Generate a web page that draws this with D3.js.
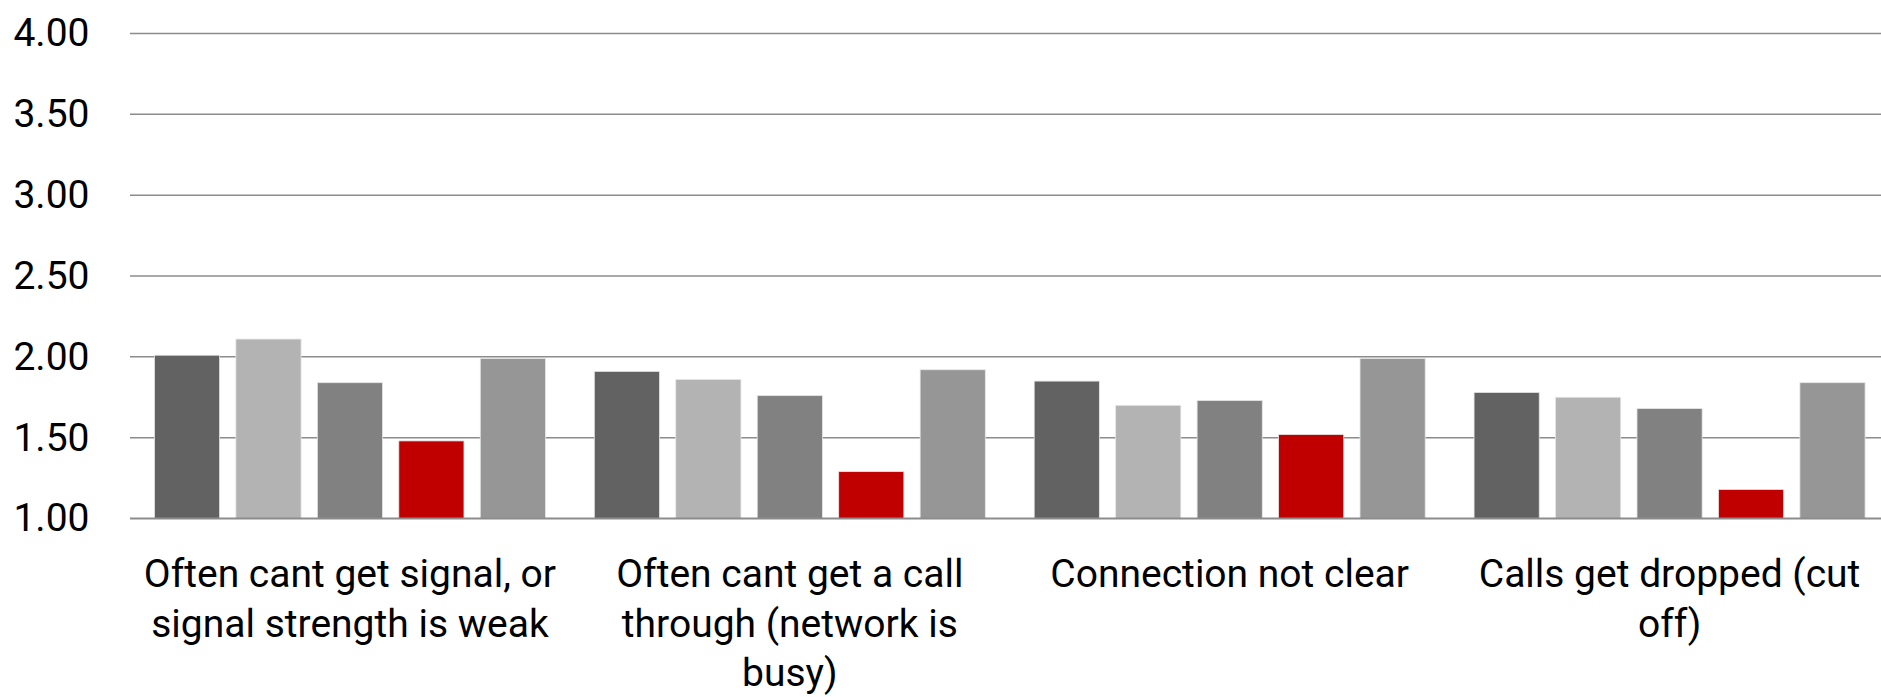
<!DOCTYPE html>
<html>
<head>
<meta charset="utf-8">
<script src="https://cdn.jsdelivr.net/npm/d3@7"></script>
<style>
  html, body { margin: 0; padding: 0; background: #ffffff; }
  svg { display: block; }
  text { font-family: Roboto, "Open Sans", sans-serif; fill: #000; }
</style>
</head>
<body>
<svg id="chart" width="1881" height="697"></svg>
<script>
// ---- data ----
const categories = [
  "Often cant get signal, or\nsignal strength is weak",
  "Often cant get a call\nthrough (network is\nbusy)",
  "Connection not clear",
  "Calls get dropped (cut\noff)"
];
const seriesNames = ["Series 1", "Series 2", "Series 3", "Series 4", "Series 5"];
const series1 = [2.01, 1.91, 1.85, 1.78];
const series2 = [2.11, 1.86, 1.70, 1.75];
const series3 = [1.84, 1.76, 1.73, 1.68];
const series4 = [1.48, 1.29, 1.52, 1.18];
const series5 = [1.99, 1.92, 1.99, 1.84];
const seriesColors = ["#626262", "#b3b3b3", "#818181", "#c00000", "#969696"];
const yTickValues = [1.00, 1.50, 2.00, 2.50, 3.00, 3.50, 4.00];

const seriesValues = [series1, series2, series3, series4, series5];

// ---- layout ----
const W = 1881, H = 697;
const plotLeft = 130, plotRight = 1889.5;
const plotTop = 33.5, plotBottom = 518.5;

const svg = d3.select("#chart");

const x0 = d3.scaleBand().domain(categories).range([plotLeft, plotRight])
  .paddingInner(0).paddingOuter(0);
const x1 = d3.scaleBand().domain(seriesNames).range([0, x0.bandwidth()])
  .paddingInner(0.2).paddingOuter(0.3);
const y = d3.scaleLinear().domain([1, 4]).range([plotBottom, plotTop]);

// gridlines
svg.append("g").selectAll("line")
  .data(yTickValues.filter(v => v !== 1))
  .join("line")
  .attr("x1", plotLeft).attr("x2", W)
  .attr("y1", d => y(d)).attr("y2", d => y(d))
  .attr("stroke", "#8c8c8c").attr("stroke-width", 1.5);

// bars
const groups = svg.append("g").selectAll("g")
  .data(categories)
  .join("g")
  .attr("transform", d => `translate(${x0(d)},0)`);

groups.selectAll("rect")
  .data((c, ci) => seriesNames.map((s, si) => ({ s, si, v: seriesValues[si][ci] })))
  .join("rect")
  .attr("x", d => x1(d.s))
  .attr("width", x1.bandwidth())
  .attr("y", d => y(d.v))
  .attr("height", d => y(1) - y(d.v))
  .attr("fill", d => seriesColors[d.si])
  .attr("stroke", "#e6e6e6")
  .attr("stroke-width", 0.8);

// x baseline
svg.append("line")
  .attr("x1", plotLeft).attr("x2", W)
  .attr("y1", y(1)).attr("y2", y(1))
  .attr("stroke", "#8c8c8c").attr("stroke-width", 2);

// y axis labels
const yAxis = d3.axisLeft(y).tickValues(yTickValues)
  .tickFormat(d3.format(".2f")).tickSize(0).tickPadding(40.5);
const yg = svg.append("g").attr("transform", `translate(${plotLeft},0)`).call(yAxis);
yg.select(".domain").remove();
yg.selectAll("text")
  .style("font-family", "Roboto, sans-serif")
  .style("font-size", "39px")
  .attr("fill", "#000");

// x axis category labels (multi-line)
const xAxis = d3.axisBottom(x0).tickSize(0).tickPadding(0);
const xg = svg.append("g").attr("transform", `translate(0,${plotBottom})`).call(xAxis);
xg.select(".domain").remove();
xg.selectAll("text")
  .style("font-family", "Roboto, sans-serif")
  .style("font-size", "39px")
  .attr("fill", "#000")
  .attr("y", 0).attr("dy", null)
  .each(function (d) {
    const t = d3.select(this);
    t.text(null);
    d.split("\n").forEach((line, i) => {
      t.append("tspan")
        .attr("x", 0)
        .attr("y", 68.5 + i * 49.5)
        .text(line);
    });
  });
</script>
</body>
</html>
